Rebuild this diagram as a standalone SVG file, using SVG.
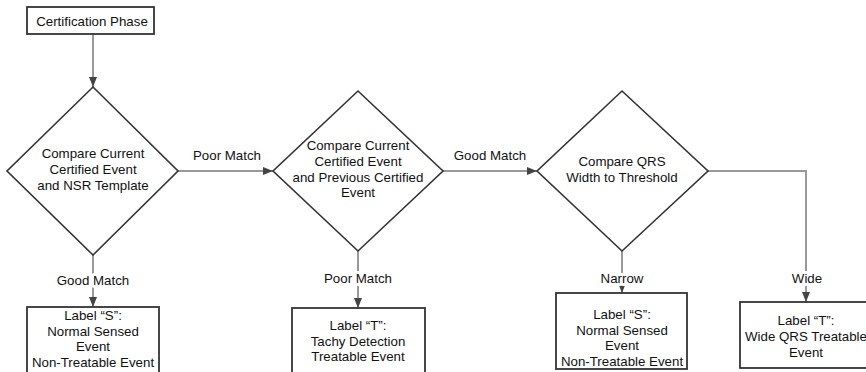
<svg xmlns="http://www.w3.org/2000/svg" width="866" height="372" viewBox="0 0 866 372">
<defs>
<style>
.box{fill:#fff;stroke:#333;stroke-width:1.8}
.dia{fill:#fff;stroke:#333;stroke-width:1.6}
.conn{fill:none;stroke:#999;stroke-width:2}
text{font-family:"Liberation Sans",Arial,sans-serif;font-size:13.3px;fill:#111;text-anchor:middle}
.lbl{stroke:#fff;stroke-width:6px;paint-order:stroke;stroke-linejoin:round}
</style>
<marker id="arr" viewBox="0 0 10 10" refX="10" refY="5" markerWidth="10" markerHeight="10" markerUnits="userSpaceOnUse" orient="auto">
<path d="M0,1 L10,5 L0,9 Z" fill="#444"/>
</marker>
</defs>
<rect width="866" height="372" fill="#fff"/>
<g id="connectors">
<line class="conn" x1="93" y1="34" x2="93" y2="87" marker-end="url(#arr)"/>
<line class="conn" x1="178" y1="171" x2="273" y2="171" marker-end="url(#arr)"/>
<line class="conn" x1="443" y1="171" x2="537" y2="171" marker-end="url(#arr)"/>
<line class="conn" x1="93" y1="255" x2="93" y2="307" marker-end="url(#arr)"/>
<line class="conn" x1="358" y1="251" x2="358" y2="308" marker-end="url(#arr)"/>
<line class="conn" x1="622" y1="251" x2="622" y2="293" marker-end="url(#arr)"/>
<polyline class="conn" points="708,171 806,171 806,302" marker-end="url(#arr)"/>
<text x="227" y="160">Poor Match</text>
<text x="490" y="160">Good Match</text>
<text class="lbl" x="93" y="285">Good Match</text>
<text class="lbl" x="358" y="283">Poor Match</text>
<text class="lbl" x="622" y="283">Narrow</text>
<text class="lbl" x="807" y="283">Wide</text>
</g>
<g id="start">
<rect class="box" x="27" y="7" width="127" height="27"/>
<text x="92" y="25.5">Certification Phase</text>
</g>
<g id="d1">
<polygon class="dia" points="93,87 178,171 93,255 7,171"/>
<text x="93" y="158">Compare Current</text>
<text x="93" y="174">Certified Event</text>
<text x="93" y="190">and NSR Template</text>
</g>
<g id="d2">
<polygon class="dia" points="358,91 443,171 358,251 273,171"/>
<text x="358" y="150">Compare Current</text>
<text x="358" y="166">Certified Event</text>
<text x="358" y="182">and Previous Certified</text>
<text x="358" y="197">Event</text>
</g>
<g id="d3">
<polygon class="dia" points="622,91 708,171 622,251 537,171"/>
<text x="622" y="166">Compare QRS</text>
<text x="622" y="182">Width to Threshold</text>
</g>
<g id="b1">
<rect class="box" x="27" y="307" width="132" height="70"/>
<text x="93" y="319.5">Label “S”:</text>
<text x="93" y="335.5">Normal Sensed</text>
<text x="93" y="351">Event</text>
<text x="93" y="366.5">Non-Treatable Event</text>
</g>
<g id="b2">
<rect class="box" x="292" y="308" width="133" height="70"/>
<text x="358" y="330">Label “T”:</text>
<text x="358" y="345.5">Tachy Detection</text>
<text x="358" y="361">Treatable Event</text>
</g>
<g id="b3">
<rect class="box" x="556" y="293" width="131" height="76"/>
<text x="622" y="319">Label “S”:</text>
<text x="622" y="334.5">Normal Sensed</text>
<text x="622" y="350">Event</text>
<text x="622" y="365.5">Non-Treatable Event</text>
</g>
<g id="b4">
<rect class="box" x="740" y="302" width="132" height="66"/>
<text x="806" y="325">Label “T”:</text>
<text x="806" y="341">Wide QRS Treatable</text>
<text x="806" y="356.5">Event</text>
</g>
</svg>
